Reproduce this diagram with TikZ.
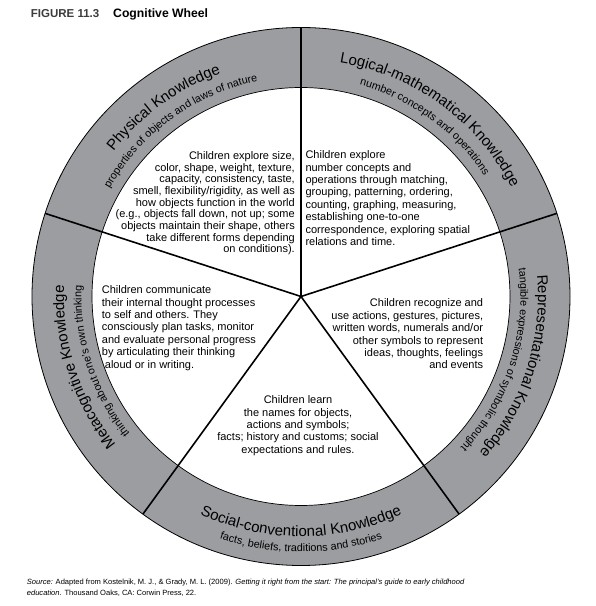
\documentclass[tikz,border=0pt]{standalone}
\usepackage{fontspec}
\setmainfont{Liberation Sans}
\usetikzlibrary{decorations.text}
\definecolor{ringgray}{RGB}{156,157,160}
\definecolor{figgray}{RGB}{60,60,60}
\begin{document}
\begin{tikzpicture}[x=1pt,y=1pt,
  body/.style={inner sep=0pt, font=\fontsize{11}{12.4}\selectfont},
  spoke/.style={line width=1.6pt, black},
  ringline/.style={line width=0.8pt, black},
  ttl/.style={decorate, decoration={text along path, text align=center,
      text={|\fontsize{15}{15}\selectfont|#1}}},
  sub/.style={decorate, decoration={text along path, text align=center,
      text={|\fontsize{10.8}{11}\selectfont|#1}}}
]
\useasboundingbox[fill=white] (0,0) rectangle (596,606);
\coordinate (c) at (301,309.5);
% ring
\fill[ringgray, even odd rule] (c) circle[radius=269] (c) circle[radius=209];
\draw[ringline] (c) circle[radius=269];
\draw[line width=0.7pt] (c) circle[radius=209];
% spokes
\path (c) ++(90:269) coordinate (s1);
\path (c) ++(162:269) coordinate (s2);
\path (c) ++(234:269) coordinate (s3);
\path (c) ++(306:269) coordinate (s4);
\path (c) ++(18:269) coordinate (s5);
\foreach \s in {s1,s2,s3,s4,s5} \draw[spoke, line cap=butt] (c) -- (\s);
% ring labels
\path[ttl={Physical Knowledge}] (c) ++(162:237) arc[start angle=162, end angle=90, radius=237];
\path[sub={properties of objects and laws of nature}] (c) ++(162:219.5) arc[start angle=162, end angle=90, radius=219.5];
\path[ttl={Logical-mathematical Knowledge}] (c) ++(90:237) arc[start angle=90, end angle=18, radius=237];
\path[sub={number concepts and operations}] (c) ++(90:219.5) arc[start angle=90, end angle=18, radius=219.5];
\path[ttl={Representational Knowledge}] (c) ++(18:237) arc[start angle=18, end angle=-54, radius=237];
\path[sub={tangible expressions of symbolic thought}] (c) ++(18:219.5) arc[start angle=18, end angle=-54, radius=219.5];
\path[ttl={Metacognitive Knowledge}] (c) ++(234:237) arc[start angle=234, end angle=162, radius=237];
\path[sub={thinking about one's own thinking}] (c) ++(234:219.5) arc[start angle=234, end angle=162, radius=219.5];
\path[ttl={Social-conventional Knowledge}] (c) ++(234:240) arc[start angle=234, end angle=306, radius=240];
\path[sub={facts, beliefs, traditions and stories}] (c) ++(234:255.5) arc[start angle=234, end angle=306, radius=255.5];
% body texts
\node[body, align=right, anchor=north east, font=\fontsize{11}{11.7}\selectfont] (phys) at (295,454.8)
 {Children explore size,\\color, shape, weight, texture,\\capacity, consistency, taste,\\smell, flexibility/rigidity, as well as\\how objects function in the world\\(e.g., objects fall down, not up; some\\objects maintain their shape, others\\take different forms depending\\on conditions).};
\node[body, align=left, anchor=north west] (logi) at (305.3,455.5)
 {Children explore\\number concepts and\\operations through matching,\\grouping, patterning, ordering,\\counting, graphing, measuring,\\establishing one-to-one\\correspondence, exploring spatial\\relations and time.};
\node[body, align=left, anchor=north west] (meta) at (101.7,320.5)
 {Children communicate\\their internal thought processes\\to self and others. They\\consciously plan tasks, monitor\\and evaluate personal progress\\by articulating their thinking\\\hspace{3pt}aloud or in writing.};
\node[body, align=right, anchor=north east] (repr) at (483.3,307.2)
 {Children recognize and\\use actions, gestures, pictures,\\written words, numerals and/or\\other symbols to represent\\ideas, thoughts, feelings\\and events};
\node[body, align=center, anchor=north] (soci) at (298,210.5)
 {Children learn\\the names for objects,\\actions and symbols;\\facts; history and customs; social\\expectations and rules.};
% heading
\node[anchor=base west, inner sep=0pt, text=figgray, font=\fontsize{11.5}{12}\selectfont\bfseries] (fig) at (30.7,588.7) {FIGURE 11.3};
\node[anchor=base west, inner sep=0pt, font=\fontsize{12.2}{13}\selectfont\bfseries] (cw) at (113,588.7) {Cognitive Wheel};
% source
\node[anchor=north west, inner sep=0pt, align=left, font=\fontsize{7.55}{11}\selectfont] (src) at (26.7,27)
 {\textit{Source:} Adapted from Kostelnik, M. J., \& Grady, M. L. (2009). \textit{Getting it right from the start: The principal's guide to early childhood}\\\textit{education}. Thousand Oaks, CA: Corwin Press, 22.};
\end{tikzpicture}
\end{document}
